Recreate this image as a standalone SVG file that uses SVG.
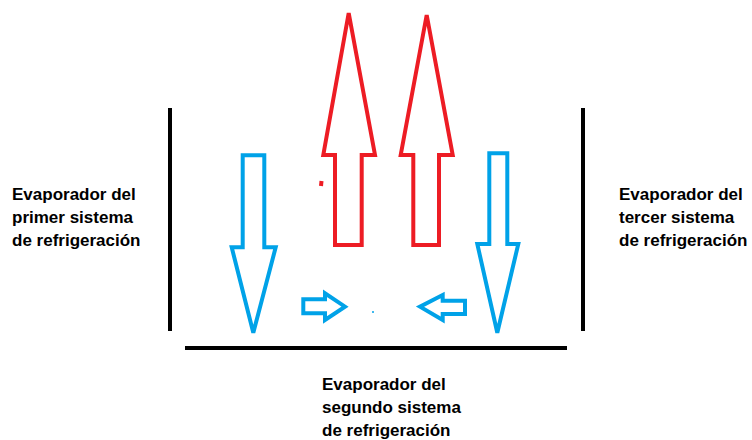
<svg xmlns="http://www.w3.org/2000/svg" width="752" height="440" viewBox="0 0 752 440">
<style>
.red{fill:none;stroke:#ed1c24;stroke-width:4;stroke-linejoin:miter}
.blue{fill:none;stroke:#00a2e8;stroke-width:4;stroke-linejoin:miter}
.wall{stroke:#000;stroke-width:4;fill:none}
text{font-family:"Liberation Sans",Arial,sans-serif;font-weight:bold;font-size:17px;fill:#000}
</style>
<rect width="752" height="440" fill="#fff"/>
<g id="walls">
<line class="wall" x1="170" y1="108" x2="170" y2="331"/>
<line class="wall" x1="583" y1="108" x2="583" y2="331"/>
<line class="wall" x1="185" y1="348" x2="567" y2="348"/>
</g>
<g id="connectors">
<path class="red" d="M348.7,13 L375,155 L361.7,155 L361.7,245 L335,245 L335,155 L323.3,155 Z"/>
<path class="red" d="M426.7,15 L452.7,155 L439,155 L439,245 L413.3,245 L413.3,155 L400.7,155 Z"/>
<path class="red" d="M321.5,181 L321,186" stroke-width="2"/>
<path class="blue" d="M242.7,155.3 L264.3,155.3 L264.3,247.3 L275.7,247.3 L253.3,332.7 L231.7,247.3 L242.7,247.3 Z"/>
<path class="blue" d="M489.3,153.3 L507.3,153.3 L507.3,244 L518.3,244 L497.3,332.7 L477.3,244 L489.3,244 Z"/>
<path class="blue" d="M303.3,299.3 L325,299.3 L325,293.3 L345,306.7 L325,320 L325,313.3 L303.3,313.3 Z"/>
<path class="blue" d="M465,300.7 L442.7,300.7 L442.7,295 L420,306.7 L442.7,320 L442.7,314 L465,314 Z"/>
<circle cx="373" cy="312" r="1" fill="#00a2e8"/>
</g>
<g id="node-primer">
<text x="12" y="200">Evaporador del</text>
<text x="12" y="223">primer sistema</text>
<text x="12" y="246">de refrigeración</text>
</g>
<g id="node-tercer">
<text x="619" y="200">Evaporador del</text>
<text x="619" y="223">tercer sistema</text>
<text x="619" y="246">de refrigeración</text>
</g>
<g id="node-segundo">
<text x="322" y="390">Evaporador del</text>
<text x="322" y="413">segundo sistema</text>
<text x="322" y="436">de refrigeración</text>
</g>
</svg>
